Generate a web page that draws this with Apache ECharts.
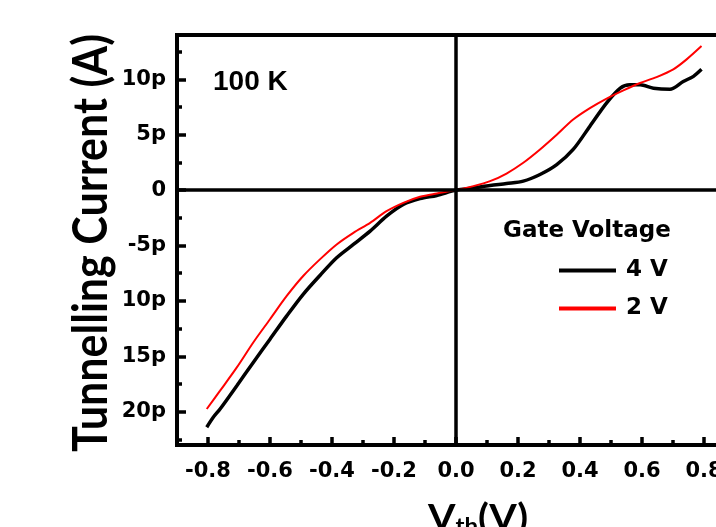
<!DOCTYPE html>
<html>
<head>
<meta charset="utf-8">
<style>
  html, body { margin: 0; padding: 0; background: #fff; }
  #chart { width: 716px; height: 527px; }
</style>
<script src="https://cdn.jsdelivr.net/npm/echarts@6/dist/echarts.min.js"></script>
</head>
<body>
<div id="chart"></div>
<script>
// Bias voltage (V) and tunnelling current (pA) for each gate voltage
const vGate4 = [-0.804, -0.783, -0.761, -0.707, -0.654, -0.6, -0.546, -0.493, -0.439, -0.385, -0.331, -0.277, -0.224, -0.17, -0.116, -0.062, 0,
  0.056, 0.11, 0.163, 0.217, 0.271, 0.325, 0.378, 0.432, 0.486, 0.53, 0.561, 0.594, 0.637, 0.69, 0.733, 0.766, 0.792];
const iGate4 = [-21.4, -20.5, -19.75, -17.65, -15.55, -13.45, -11.35, -9.4, -7.7, -6.1, -4.9, -3.7, -2.35, -1.3, -0.77, -0.48, 0,
  0.2, 0.42, 0.6, 0.81, 1.41, 2.3, 3.67, 5.77, 7.87, 9.2, 9.5, 9.5, 9.2, 9.1, 9.8, 10.27, 10.9];

const vGate2 = [-0.804, -0.761, -0.707, -0.654, -0.6, -0.546, -0.493, -0.439, -0.385, -0.331, -0.277, -0.224, -0.17, -0.116, -0.062, 0,
  0.056, 0.11, 0.163, 0.217, 0.271, 0.325, 0.378, 0.432, 0.486, 0.54, 0.594, 0.647, 0.701, 0.744, 0.792];
const iGate2 = [-19.75, -18.1, -16.0, -13.75, -11.65, -9.55, -7.75, -6.25, -4.9, -3.85, -2.95, -1.9, -1.15, -0.6, -0.3, 0,
  0.36, 0.81, 1.5, 2.47, 3.67, 5.0, 6.37, 7.4, 8.26, 9.0, 9.67, 10.2, 10.9, 11.8, 13.0];

const seriesNames = ['4 V', '2 V'];

// Axis ticks and their labels
const xMajorTicks = [-0.8, -0.6, -0.4, -0.2, 0, 0.2, 0.4, 0.6, 0.8];
const xTickLabels = ['-0.8', '-0.6', '-0.4', '-0.2', '0.0', '0.2', '0.4', '0.6', '0.8'];
const xMinorTicks = [-0.9, -0.7, -0.5, -0.3, -0.1, 0.1, 0.3, 0.5, 0.7, 0.9];

const yMajorTicks = [-20, -15, -10, -5, 0, 5, 10];
const yTickLabels = ['20p', '15p', '10p', '-5p', '0', '5p', '10p'];
const yMinorTicks = [-22.5, -17.5, -12.5, -7.5, -2.5, 2.5, 7.5, 12.5];

const X_MIN = -0.9, X_MAX = 0.9, Y_MIN = -23, Y_MAX = 14;

function labelFor(values, labels) {
  return function (v) {
    const k = values.findIndex(t => Math.abs(t - v) < 1e-6);
    return k >= 0 ? labels[k] : '';
  };
}
const pairs = (xs, ys) => xs.map((x, i) => [x, ys[i]]);

const TICK_FONT = { color: '#000', fontFamily: 'DejaVu Sans', fontWeight: 'bold', fontSize: 21 };
const AXIS_W = 4;

const chart = echarts.init(document.getElementById('chart'), null, { renderer: 'canvas' });

chart.setOption({
  animation: false,
  backgroundColor: '#fff',
  // the plot frame runs past the right edge of the canvas
  grid: {
    left: 177, top: 35, right: -19, bottom: 82,
    outerBoundsMode: 'none', containLabel: false,
    show: true, borderColor: '#000', borderWidth: AXIS_W, backgroundColor: 'transparent'
  },
  xAxis: [
    {
      type: 'value', min: X_MIN, max: X_MAX, position: 'bottom',
      axisLine: { onZero: false, lineStyle: { color: '#000', width: AXIS_W } },
      axisTick: { inside: true, length: 8, customValues: xMajorTicks, lineStyle: { color: '#000', width: 3.5 } },
      axisLabel: Object.assign({ customValues: xMajorTicks, margin: 16, hideOverlap: false, formatter: labelFor(xMajorTicks, xTickLabels) }, TICK_FONT),
      splitLine: { show: false }
    },
    {
      type: 'value', min: X_MIN, max: X_MAX, position: 'bottom',
      axisLine: { show: false, onZero: false },
      axisTick: { inside: true, length: 5, customValues: xMinorTicks, lineStyle: { color: '#000', width: 3.5 } },
      axisLabel: { show: false },
      splitLine: { show: false }
    }
  ],
  yAxis: [
    {
      type: 'value', min: Y_MIN, max: Y_MAX, position: 'left',
      axisLine: { onZero: false, lineStyle: { color: '#000', width: AXIS_W } },
      axisTick: { inside: true, length: 9, customValues: yMajorTicks, lineStyle: { color: '#000', width: 3.5 } },
      axisLabel: Object.assign({ customValues: yMajorTicks, margin: 11, formatter: labelFor(yMajorTicks, yTickLabels) }, TICK_FONT),
      splitLine: { show: false }
    },
    {
      type: 'value', min: Y_MIN, max: Y_MAX, position: 'left',
      axisLine: { show: false, onZero: false },
      axisTick: { inside: true, length: 5, customValues: yMinorTicks, lineStyle: { color: '#000', width: 3.5 } },
      axisLabel: { show: false },
      splitLine: { show: false }
    }
  ],
  legend: {
    orient: 'vertical', left: 559, top: 259, padding: 0,
    itemWidth: 57, itemHeight: 4, itemGap: 15,
    icon: 'rect',
    textStyle: { color: '#000', fontFamily: 'DejaVu Sans', fontWeight: 'bold', fontSize: 23, padding: [0, 0, 0, 5] },
    data: seriesNames
  },
  series: [
    {
      name: seriesNames[0], type: 'line', data: pairs(vGate4, iGate4),
      showSymbol: false, smooth: 0.3, color: '#000',
      lineStyle: { color: '#000', width: 3.5 },
      markLine: {
        silent: true, symbol: 'none', label: { show: false },
        lineStyle: { color: '#000', width: 3.5, type: 'solid' },
        data: [{ xAxis: 0 }, { yAxis: 0 }]
      }
    },
    {
      name: seriesNames[1], type: 'line', data: pairs(vGate2, iGate2),
      showSymbol: false, smooth: 0.3, color: '#ff0000',
      lineStyle: { color: '#ff0000', width: 2 }
    }
  ],
  graphic: [
    {
      type: 'text', x: 213, y: 82,
      style: { text: '100 K', fill: '#000', fontFamily: 'Liberation Sans', fontWeight: 'bold', fontSize: 28, align: 'left', verticalAlign: 'middle' }
    },
    {
      type: 'text', x: 503, y: 231,
      style: { text: 'Gate Voltage', fill: '#000', fontFamily: 'DejaVu Sans', fontWeight: 'bold', fontSize: 23, align: 'left', verticalAlign: 'middle' }
    },
    {
      type: 'text', x: 92, y: 243, rotation: Math.PI / 2, scaleX: 1, scaleY: 1.1,
      style: { text: 'Tunnelling Current (A)', fill: '#000', fontFamily: 'Lato', fontWeight: 'bold', fontSize: 43, align: 'center', verticalAlign: 'middle' }
    },
    {
      type: 'text', x: 478, y: 498, scaleX: 1.1, scaleY: 1,
      style: {
        text: '{a|V}{s|th}{a|(V)}', fill: '#000', align: 'center', verticalAlign: 'top',
        rich: {
          a: { fontFamily: 'Lato', fontWeight: 'bold', fontSize: 36, lineHeight: 40 },
          s: { fontFamily: 'Lato', fontWeight: 'bold', fontSize: 22, lineHeight: 14, verticalAlign: 'bottom' }
        }
      }
    }
  ]
});
</script>
</body>
</html>
